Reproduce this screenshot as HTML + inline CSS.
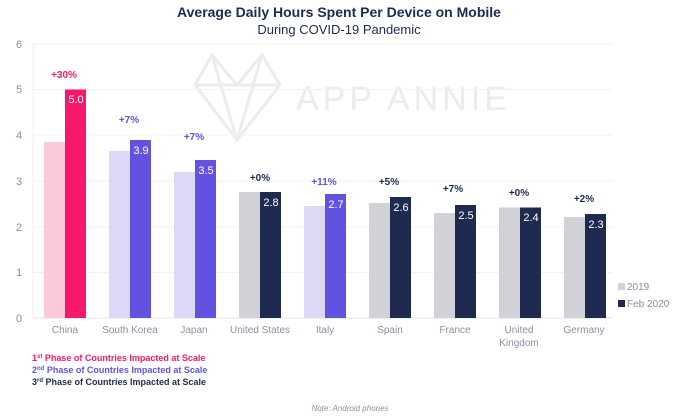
<!DOCTYPE html>
<html><head><meta charset="utf-8"><style>
html,body{margin:0;padding:0;background:#fff;}
svg{display:block;font-family:"Liberation Sans",sans-serif;}
</style></head><body>
<svg width="679" height="420" viewBox="0 0 679 420">
<rect width="679" height="420" fill="#fff"/>
<text x="339" y="17" text-anchor="middle" font-size="14" font-weight="bold" fill="#1e2a50">Average Daily Hours Spent Per Device on Mobile</text>
<text x="339" y="34" text-anchor="middle" font-size="13" fill="#1e2a50">During COVID-19 Pandemic</text>
<!-- watermark -->
<g stroke="#ececf0" stroke-width="3" fill="none">
<polygon points="212,55 237,85 262,55 280,85 237,140 195,85"/>
<line x1="195" y1="85" x2="280" y2="85"/>
<line x1="212" y1="55" x2="237" y2="140"/>
<line x1="262" y1="55" x2="237" y2="140"/>
</g>
<text x="296" y="110" font-size="34" fill="#ececf0" letter-spacing="4">APP ANNIE</text>
<!-- grid -->
<g stroke="#f2f2f4" stroke-width="1">
<line x1="33" y1="44" x2="613" y2="44"/><line x1="33" y1="89.5" x2="613" y2="89.5"/>
<line x1="33" y1="135" x2="613" y2="135"/><line x1="33" y1="181" x2="613" y2="181"/>
<line x1="33" y1="227" x2="613" y2="227"/><line x1="33" y1="272.5" x2="613" y2="272.5"/>
<line x1="33" y1="44" x2="33" y2="318"/>
</g>
<line x1="33" y1="318" x2="613" y2="318" stroke="#e6e6ea"/>
<g font-size="11" fill="#8a8fa3" text-anchor="middle">
<text x="19" y="48">6</text><text x="19" y="93">5</text><text x="19" y="139">4</text>
<text x="19" y="185">3</text><text x="19" y="231">2</text><text x="19" y="276">1</text><text x="19" y="322">0</text>
</g>
<!-- bars -->
<rect x="44" y="142" width="21" height="176" fill="#fcc8dc"/>
<rect x="65" y="89.5" width="21" height="228.5" fill="#f7186d"/>
<rect x="109" y="151" width="21" height="167" fill="#dcd8f6"/>
<rect x="130" y="140" width="21" height="178" fill="#6352e0"/>
<rect x="174" y="172" width="21" height="146" fill="#dcd8f6"/>
<rect x="195" y="160" width="21" height="158" fill="#6352e0"/>
<rect x="239" y="192" width="21" height="126" fill="#d0d2d8"/>
<rect x="260" y="192" width="21" height="126" fill="#1e2a50"/>
<rect x="304" y="206" width="21" height="112" fill="#dcd8f6"/>
<rect x="325" y="194" width="21" height="124" fill="#6352e0"/>
<rect x="369" y="203" width="21" height="115" fill="#d0d2d8"/>
<rect x="390" y="197" width="21" height="121" fill="#1e2a50"/>
<rect x="434" y="213" width="21" height="105" fill="#d0d2d8"/>
<rect x="455" y="205" width="21" height="113" fill="#1e2a50"/>
<rect x="499" y="207.5" width="21" height="110.5" fill="#d0d2d8"/>
<rect x="520" y="207.5" width="21" height="110.5" fill="#1e2a50"/>
<rect x="564" y="217" width="21" height="101" fill="#d0d2d8"/>
<rect x="585" y="214" width="21" height="104" fill="#1e2a50"/>
<!-- values -->
<g font-size="11" fill="#fff" text-anchor="middle">
<text x="76" y="103">5.0</text><text x="141" y="154">3.9</text><text x="206" y="174">3.5</text>
<text x="271" y="206">2.8</text><text x="336" y="208">2.7</text><text x="401" y="211">2.6</text>
<text x="466" y="219">2.5</text><text x="531" y="221">2.4</text><text x="596" y="228">2.3</text>
</g>
<g font-size="10" font-weight="bold" text-anchor="middle">
<text x="64" y="78" fill="#f7186d">+30%</text>
<text x="129" y="123" fill="#6352e0">+7%</text>
<text x="194" y="140" fill="#6352e0">+7%</text>
<text x="260" y="181" fill="#1e2a50">+0%</text>
<text x="324" y="185" fill="#6352e0">+11%</text>
<text x="389" y="185" fill="#1e2a50">+5%</text>
<text x="453" y="192" fill="#1e2a50">+7%</text>
<text x="519" y="196" fill="#1e2a50">+0%</text>
<text x="584" y="202" fill="#1e2a50">+2%</text>
</g>
<!-- x labels -->
<g font-size="10" fill="#8a8fa3" text-anchor="middle">
<text x="65" y="333">China</text><text x="130" y="333">South Korea</text><text x="194" y="333">Japan</text>
<text x="260" y="333">United States</text><text x="325" y="333">Italy</text><text x="390" y="333">Spain</text>
<text x="455" y="333">France</text><text x="519" y="333">United</text><text x="519" y="346">Kingdom</text>
<text x="584" y="333">Germany</text>
</g>
<!-- legend -->
<rect x="618" y="283" width="7" height="7" fill="#d0d2d8"/>
<text x="627" y="290" font-size="10" fill="#8a8fa3">2019</text>
<rect x="618" y="300" width="7" height="7" fill="#1e2a50"/>
<text x="627" y="307" font-size="10" fill="#8a8fa3">Feb 2020</text>
<!-- phases -->
<g font-size="9" font-weight="bold">
<text x="32" y="361" fill="#f7186d">1<tspan font-size="6" dy="-3">st</tspan><tspan dy="3"> Phase of Countries Impacted at Scale</tspan></text>
<text x="32" y="373" fill="#6352e0">2<tspan font-size="6" dy="-3">nd</tspan><tspan dy="3"> Phase of Countries Impacted at Scale</tspan></text>
<text x="32" y="385" fill="#1e2a50">3<tspan font-size="6" dy="-3">rd</tspan><tspan dy="3"> Phase of Countries Impacted at Scale</tspan></text>
</g>
<text x="350" y="411" font-size="8" font-style="italic" fill="#8a8fa3" text-anchor="middle">Note: Android phones</text>
</svg>
</body></html>
